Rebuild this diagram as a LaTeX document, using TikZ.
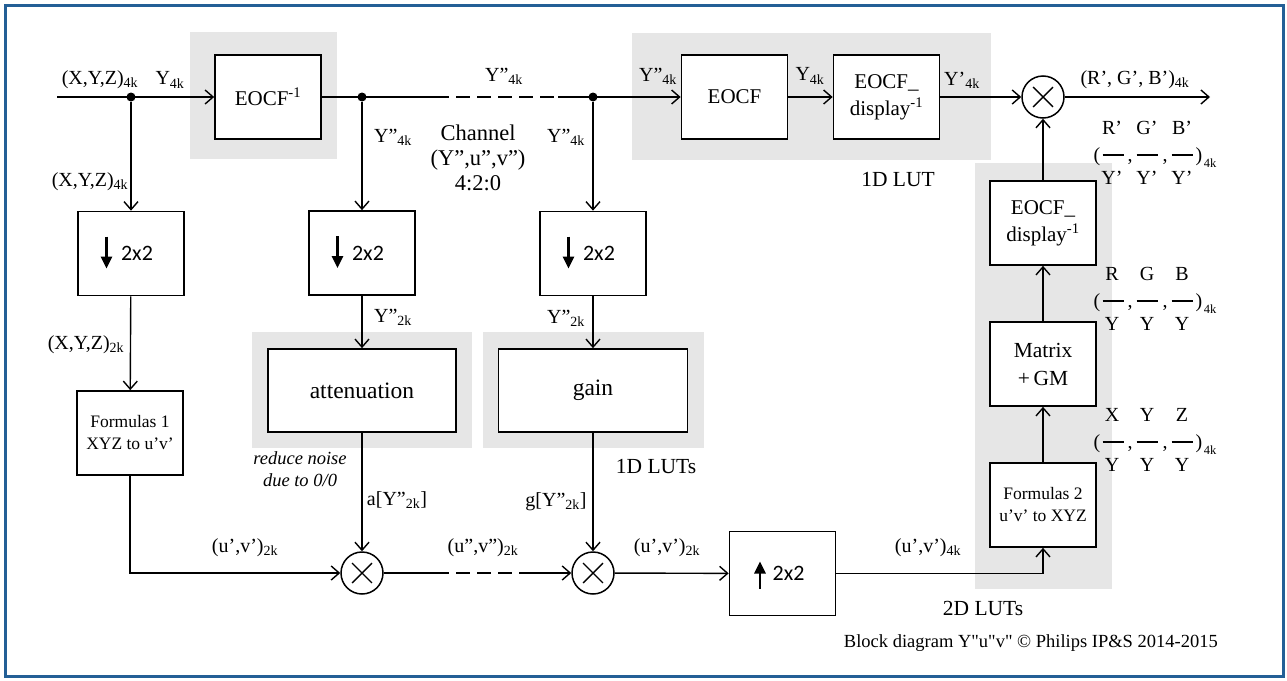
\documentclass[tikz,border=0pt]{standalone}
\usepackage{fontspec}
\setmainfont{Liberation Serif}
\newfontfamily\carlito{Carlito}
\newfontfamily\rawserif[Ligatures=ResetAll]{Liberation Serif}
\usetikzlibrary{arrows.meta}
\definecolor{frameblue}{RGB}{35,95,150}
\definecolor{lutgray}{RGB}{230,230,230}
\newcommand\sz[2]{\fontsize{#1pt}{#2pt}\selectfont}
\newcommand\rdash{\rule[5.5pt]{21pt}{1.1pt}}
\tikzset{
  blk/.style={draw, line width=1.7pt, fill=white, minimum width=106pt, minimum height=84pt,
    inner sep=0pt, align=center, font=\sz{21}{27}},
  conn/.style={line width=1.4pt},
  arr/.style={conn, -{Straight Barb[length=8pt,width=14pt,line width=1.4pt]}},
  dashconn/.style={conn, dash pattern=on 14pt off 7pt},
  thickarr/.style={line width=2.6pt, -{Triangle[length=12pt,width=11pt]}},
  lbl/.style={inner sep=1pt, font=\sz{20}{24}},
  biglbl/.style={inner sep=1pt, font=\sz{21.5}{25}, align=center},
  sublbl/.style={inner sep=0pt, font=\sz{12.5}{14}, anchor=base},
  jn/.style={circle, fill, inner sep=0pt, minimum size=9pt},
  mul/.style={circle, draw, line width=1.5pt, minimum size=42pt, inner sep=0pt, fill=white},
  lutpanel/.style={fill=lutgray, draw=none}
}
\newcommand\ratioblk[6]{%
  \node[lbl, anchor=base] (#1t1) at (1112,#2-21) {#3};
  \node[lbl, anchor=base] (#1t2) at (1147,#2-21) {#4};
  \node[lbl, anchor=base] (#1t3) at (1182,#2-21) {#5};
  \node[lbl, anchor=base] (#1o) at (1097,#2+6) {(};
  \node[lbl, anchor=base] (#1d1) at (1113,#2+6) {\rdash};
  \node[lbl, anchor=base] (#1k1) at (1130,#2+6) {,};
  \node[lbl, anchor=base] (#1d2) at (1147,#2+6) {\rdash};
  \node[lbl, anchor=base] (#1k2) at (1165,#2+6) {,};
  \node[lbl, anchor=base] (#1d3) at (1182,#2+6) {\rdash};
  \node[lbl, anchor=base] (#1c) at (1199,#2+6) {)};
  \node[sublbl] (#1s) at (1210,#2+12) {4k};
  \node[lbl, anchor=base] (#1b1) at (1112,#2+29) {#6};
  \node[lbl, anchor=base] (#1b2) at (1147,#2+29) {#6};
  \node[lbl, anchor=base] (#1b3) at (1182,#2+29) {#6};
}
\begin{document}
\begin{tikzpicture}[x=1pt,y=-1pt]
\useasboundingbox (0,0) rectangle (1287,680);
\fill[white] (0,0) rectangle (1287,680);
\draw[frameblue, line width=3pt] (5,5) rectangle (1283,676);

% LUT panels
\fill[lutpanel] (190,32) rectangle (337,159);
\fill[lutpanel] (632,33) rectangle (991,160);
\fill[lutpanel] (252,332) rectangle (472,448);
\fill[lutpanel] (483,332) rectangle (704,448);
\fill[lutpanel] (975,163) rectangle (1112,589);

% main row
\coordinate (in) at (57,97);
\node[jn] (j1) at (131,97) {};
\node[blk] (eocfinv) at (268,97) {EOCF\textsuperscript{-1}};
\node[jn] (j2) at (362,97) {};
\coordinate (c1) at (435,97);
\coordinate (c2) at (558,97);
\node[jn] (j3) at (593,97) {};
\node[blk] (eocf) at (734.5,97) {EOCF};
\node[blk] (eocfd) at (886.5,97) {EOCF\_\\display\textsuperscript{-1}};
\node[mul] (mt) at (1043,97) {};
\coordinate (out) at (1210,97);

% columns
\node[blk] (ds1) at (131,253.5) {\carlito\sz{22}{24}\hspace*{12pt}2x2};
\node[blk, font=\sz{17.5}{22}] (f1) at (130,433) {Formulas 1\\XYZ to u’v’};
\node[blk] (ds2) at (362,253) {\carlito\sz{22}{24}\hspace*{12pt}2x2};
\node[blk, minimum width=188pt, minimum height=83pt, font=\sz{23.5}{26}] (att) at (362,390.5) {attenuation};
\node[blk] (ds3) at (593,253.5) {\carlito\sz{22}{24}\hspace*{12pt}2x2};
\node[blk, minimum width=189pt, minimum height=83pt, font=\sz{23.5}{26}] (gain) at (593,390.5) {gain};
\node[mul] (m1) at (362,573) {};
\node[mul] (m2) at (593,573) {};
\coordinate (c3) at (435,573);
\coordinate (c4) at (530,573);
\node[blk] (us) at (782.5,573.5) {\carlito\sz{22}{24}\hspace*{12pt}2x2};
\node[blk, font=\sz{17.5}{22}] (f2) at (1043,505) {Formulas 2\\u’v’ to XYZ};
\node[blk, font=\sz{21.5}{28}] (mat) at (1043,364) {Matrix\\+\,GM};
\node[blk] (eocfd2) at (1043,223) {EOCF\_\\display\textsuperscript{-1}};

% thick arrows in 2x2 boxes
\foreach \b in {ds1,ds2,ds3}
  \draw[thickarr] (\b.center) ++(-24.5,-17) -- ++(0,32);
\draw[thickarr] (us.center) ++(-22.5,15) -- ++(0,-27);

% crosses
\foreach \m in {mt,m1,m2}
  \draw[conn] (\m.center) ++(45:14) -- ++(225:28) (\m.center) ++(135:14) -- ++(315:28);

% connectors
\draw[arr] (in) -- (eocfinv.west);
\draw[conn] (eocfinv.east) -- (c1);
\draw[dashconn] (c1) -- (c2);
\draw[arr] (c2) -- (eocf.west);
\draw[arr] (eocf) -- (eocfd);
\draw[arr] (eocfd) -- (mt);
\draw[arr] (mt) -- (out);
\draw[arr] (j1) -- (ds1);
\draw[arr] (ds1) -- (f1);
\draw[arr] (j2) -- (ds2);
\draw[arr] (ds2) -- (att);
\draw[arr] (att) -- (m1);
\draw[arr] (j3) -- (ds3);
\draw[arr] (ds3) -- (gain);
\draw[arr] (gain) -- (m2);
\draw[arr] (f1.south) |- (m1.west);
\draw[conn] (m1.east) -- (c3);
\draw[dashconn] (c3) -- (c4);
\draw[arr] (c4) -- (m2.west);
\draw[arr] (m2) -- (us);
\draw[arr] (us.east) -| (f2.south);
\draw[arr] (f2) -- (mat);
\draw[arr] (mat) -- (eocfd2);
\draw[arr] (eocfd2) -- (mt);

% labels
\node[lbl] (lxyz4a) at (100,80) {(X,Y,Z)\textsubscript{4k}};
\node[lbl] (ly4a) at (170,80) {Y\textsubscript{4k}};
\node[lbl] (lxyz4b) at (90,182) {(X,Y,Z)\textsubscript{4k}};
\node[lbl] (lxyz2) at (86,345) {(X,Y,Z)\textsubscript{2k}};
\node[lbl] (ly4b) at (393,137) {Y”\textsubscript{4k}};
\node[lbl] (ly4c) at (504,76) {Y”\textsubscript{4k}};
\node[biglbl, font=\sz{22.5}{25}] (chan) at (478,158) {Channel\\(Y”,u”,v”)\\4:2:0};
\node[lbl] (ly4d) at (566,137) {Y”\textsubscript{4k}};
\node[lbl] (ly4e) at (658,76) {Y”\textsubscript{4k}};
\node[lbl] (ly4f) at (810,76) {Y\textsubscript{4k}};
\node[lbl] (ly4g) at (962,80) {Y’\textsubscript{4k}};
\node[lbl] (lrgb) at (1135,80) {(R’, G’, B’)\textsubscript{4k}};
\node[biglbl] (l1dlut) at (898,180) {1D LUT};
\node[lbl] (ly2a) at (393,317) {Y”\textsubscript{2k}};
\node[lbl] (ly2b) at (566,318) {Y”\textsubscript{2k}};
\node[inner sep=1pt, font=\itshape\sz{18.5}{22}, align=center] (noise) at (300,469) {reduce noise\\due to 0/0};
\node[lbl] (la) at (397,500) {a[Y”\textsubscript{2k}]};
\node[biglbl] (l1dluts) at (656,467) {1D LUTs};
\node[lbl] (lg) at (556,502) {g[Y”\textsubscript{2k}]};
\node[lbl] (luv2a) at (245,548) {(u’,v’)\textsubscript{2k}};
\node[lbl] (luv2b) at (483,548) {(u”,v”)\textsubscript{2k}};
\node[lbl] (luv2c) at (667,548) {(u’,v’)\textsubscript{2k}};
\node[lbl] (luv4) at (928,548) {(u’,v’)\textsubscript{4k}};
\node[biglbl] (l2dluts) at (983,608) {2D LUTs};
\node[anchor=east, inner sep=0pt, font=\rawserif\sz{18.5}{22}] (foot) at (1218,643) {Block diagram Y"u"v" © Philips IP\&S 2014-2015};

% ratio blocks
\ratioblk{rp}{155}{R’}{G’}{B’}{Y’}
\ratioblk{rg}{301}{R}{G}{B}{Y}
\ratioblk{xz}{442}{X}{Y}{Z}{Y}
\end{tikzpicture}
\end{document}
